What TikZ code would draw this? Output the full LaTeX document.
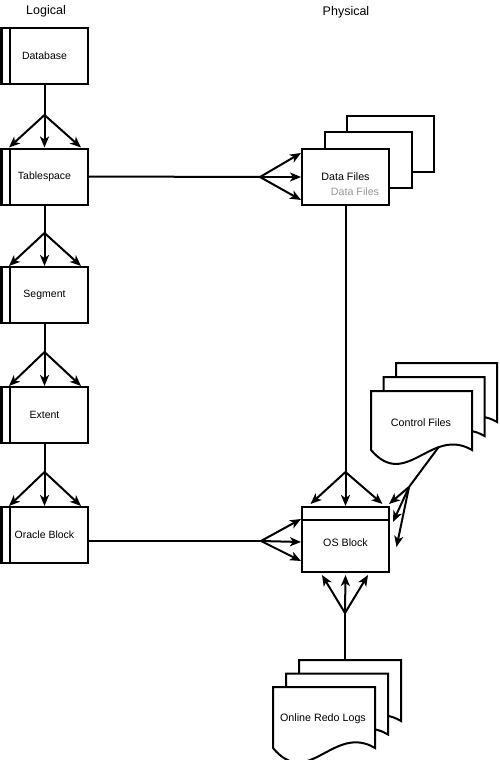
\documentclass[tikz,border=0pt]{standalone}
\usepackage{fontspec}
\setmainfont{Liberation Sans}
\usetikzlibrary{arrows.meta}
\newcommand{\docpage}[4]{%
  \draw[page] (#1,#2) -- ({#1+#3},#2) -- ({#1+#3},{#2+#4})
    .. controls ({#1+0.594*#3},{#2+0.593*#4}) and ({#1+0.347*#3},{#2+1.695*#4}) .. (#1,{#2+#4}) -- cycle;}
\begin{document}
\begin{tikzpicture}[x=1pt,y=-1pt,line width=2pt,
  arr/.style={-{Stealth[length=11pt,width=9pt,inset=3pt]}},
  lbox/.style={draw,fill=white,minimum width=87pt,minimum height=56pt,inner sep=0pt,line join=miter,font=\fontsize{10.5}{12}\selectfont},
  fbox/.style={draw,fill=white,minimum width=87pt,minimum height=56pt,inner sep=0pt,line join=miter},
  txt/.style={font=\fontsize{10.7}{12}\selectfont,inner sep=0pt},
  ttl/.style={font=\fontsize{12.5}{14}\selectfont,inner sep=0pt},
  page/.style={draw,fill=white,line join=miter}]
\useasboundingbox (0,0) rectangle (500,760);

% titles
\node[ttl] (lg) at (46,11) {Logical};
\node[ttl] (ph) at (346,12) {Physical};

% logical boxes
\foreach \n/\t/\y in {db/Database/56, ts/Tablespace/176.5, sg/Segment/295, ex/Extent/415, ob/Oracle Block/535}{
  \node[lbox] (\n) at (44.5,\y) {\t};
  \draw ([xshift=9.5pt]\n.north west) -- ([xshift=9.5pt]\n.south west);
  \fill (\n.north west) rectangle ([xshift=3pt]\n.south west);
}

% logical chain arrows
\foreach \a/\b/\s in {db/ts/115, ts/sg/233, sg/ex/352, ex/ob/472}{
  \coordinate (sp\a) at (44.5,\s);
  \draw (\a.south) -- (sp\a);
  \draw[arr] (sp\a) -- ([xshift=9pt]\b.north west);
  \draw[arr] (sp\a) -- (\b.north);
  \draw[arr] (sp\a) -- ([xshift=-8pt]\b.north east);
}

% data files
\node[fbox] (df3) at (390,143.5) {};
\node[fbox] (df2) at (368,160) {};
\node[fbox,txt] (df1) at (345.5,177) {Data Files};
\node[txt,text=black!40] (dfg) at (355,192) {Data Files};

% OS block
\node[draw,fill=white,minimum width=87pt,minimum height=65pt,inner sep=0pt,line join=miter] (os) at (345.5,539.5) {};
\draw ([yshift=-14pt]os.north west) -- ([yshift=-14pt]os.north east);
\node[txt] (ost) at (345.5,543) {OS Block};

% control files
\docpage{396}{363}{101}{59}
\docpage{383.5}{377}{101}{59}
\docpage{371}{391}{101}{59}
\node[txt] (cf) at (421,423) {Control Files};
\coordinate (cfw) at (438.7,447);

% online redo logs
\docpage{299}{660}{102}{61}
\docpage{286}{673.5}{102}{61}
\docpage{273}{687}{102}{61}
\node[txt] (rl) at (323,719) {Online Redo Logs};
\coordinate (rltop) at (345,660);

% tablespace -> data files
\coordinate (spt) at (260,177);
\draw (ts.east) -- (spt);
\draw[arr] (spt) -- ([yshift=24pt]df1.west);
\draw[arr] (spt) -- (df1.west);
\draw[arr] (spt) -- ([yshift=-23pt]df1.west);

% data files -> OS block
\coordinate (spd) at (345.5,472);
\draw (df1.south) -- (spd);
\draw[arr] (spd) -- ([xshift=-35pt,yshift=2pt]os.north);
\draw[arr] (spd) -- (os.north);
\draw[arr] (spd) -- ([xshift=37pt,yshift=2pt]os.north);

% oracle block -> OS block
\coordinate (spo) at (261,541);
\draw ([yshift=-6pt]ob.east) -- (spo);
\draw[arr] (spo) -- ([yshift=20.5pt]os.west);
\draw[arr] (spo) -- ([yshift=-2.5pt]os.west);
\draw[arr] (spo) -- ([yshift=-21.5pt]os.west);

% control files -> OS block
\coordinate (spc) at (409,487);
\draw (cfw) -- (spc);
\draw[arr] (spc) -- ([xshift=-1pt,yshift=2pt]os.north east);
\draw[arr] (spc) -- ([xshift=3pt,yshift=17.5pt]os.east);
\draw[arr] (spc) -- ([xshift=6.5pt,yshift=-7.5pt]os.east);

% redo logs -> OS block
\coordinate (spr) at (345,613);
\draw (rltop) -- (spr);
\draw[arr] (spr) -- ([xshift=-23.5pt,yshift=-2pt]os.south);
\draw[arr] (spr) -- ([yshift=-2pt]os.south);
\draw[arr] (spr) -- ([xshift=22.5pt,yshift=-2pt]os.south);
\end{tikzpicture}
\end{document}
